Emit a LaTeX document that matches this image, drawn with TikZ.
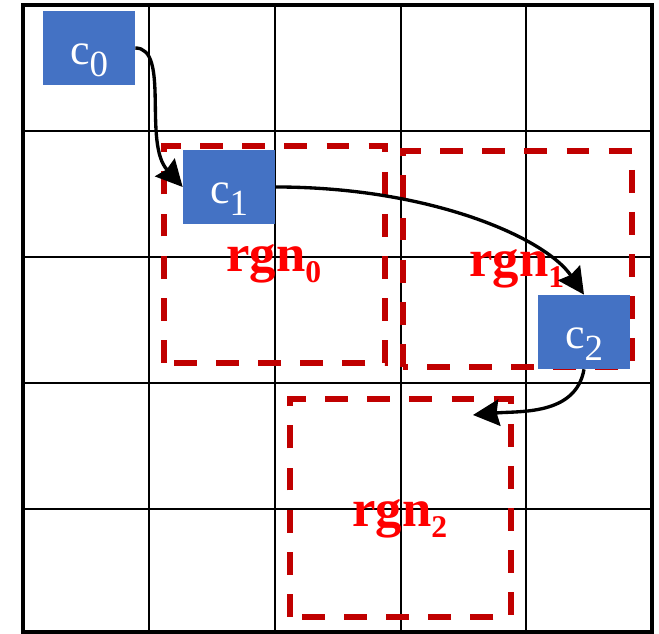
\documentclass[tikz,border=0pt]{standalone}
\usepackage{fontspec}
\setmainfont{Liberation Serif}
\usetikzlibrary{arrows.meta}
\definecolor{cellblue}{HTML}{4472C4}
\definecolor{rgndark}{HTML}{C00000}
\definecolor{rgnred}{HTML}{FF0000}
\tikzstyle{arrow} = [line width=1.9pt,-{Stealth[length=15pt,width=15pt,inset=1.5pt]}]
\tikzstyle{cell} = [rectangle, minimum width=1.84cm, minimum height=1.48cm, inner sep=0pt, text height=20pt, text depth=1pt, fill=cellblue, text=white, font=\fontsize{25}{25}\selectfont]
\tikzstyle{region} = [draw=rgndark, line width=3pt, dash pattern=on 13pt off 11pt]
\tikzstyle{rgnlabel} = [anchor=base west, inner sep=0pt, text=rgnred, font=\fontsize{30}{30}\selectfont\bfseries]
\newcommand{\csub}[1]{\raisebox{-7pt}{\fontsize{21}{21}\selectfont #1}}
\newcommand{\rsub}[1]{\raisebox{-6pt}{\fontsize{18}{18}\selectfont #1}}

\begin{document}
\begin{tikzpicture}[x=0.02cm, y=0.02cm]
\useasboundingbox (0,0) rectangle (659,634);

% Grid
\foreach \gx in {149,275,401,526}
  \draw [line width=1.4pt] (\gx,2) -- (\gx,629);
\foreach \gy in {125,251,377,503}
  \draw [line width=1.4pt] (23,\gy) -- (652,\gy);
\draw [line width=2.2pt] (23,2) rectangle (652,629);

% Regions
\draw [region] (164,271) rectangle (385,488);
\draw [region] (403,267) rectangle (632,483);
\draw [region] (290,17) rectangle (511,235);

% Cells
\node (c0) [cell] at (89,586) {c\csub{0}};
\node (c1) [cell] at (229,447) {c\csub{1}};
\node (c2) [cell] at (584,302) {c\csub{2}};

% Region labels
\node (rgn0) [rgnlabel] at (226,362) {rgn\rsub{0}};
\node (rgn1) [rgnlabel] at (469,357) {rgn\rsub{1}};
\node (rgn2) [rgnlabel] at (352,107) {rgn\rsub{2}};

% Arrows
\coordinate (r2in) at (473,219);
\draw [arrow] (c0.east) .. controls +(35,0) and +(-40,44) .. (c1.west);
\draw [arrow] (c1.east) .. controls +(155,0) and +(-39,57) .. (c2.north);
\draw [arrow] (c2.south) to[out=-100,in=5] (r2in);

\end{tikzpicture}
\end{document}
